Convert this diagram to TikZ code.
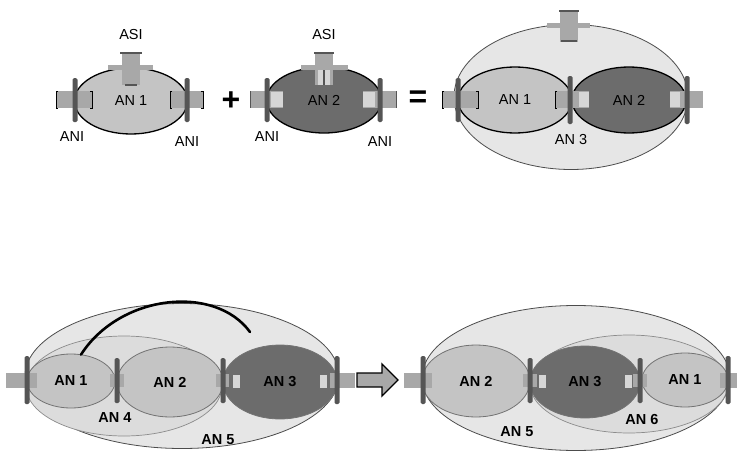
\documentclass[tikz,border=0pt]{standalone}
\usepackage{fontspec}
\setmainfont{Liberation Sans}
\usetikzlibrary{shapes.geometric}
\definecolor{lightfill}{HTML}{C4C4C4}
\definecolor{darkfill}{HTML}{6C6C6C}
\definecolor{outerfill}{HTML}{E6E6E6}
\definecolor{midfill}{HTML}{DCDCDC}
\definecolor{bardark}{HTML}{555555}
\definecolor{stubgray}{HTML}{A8A8A8}
\definecolor{stublight}{HTML}{D6D6D6}
\tikzset{
  an/.style={ellipse, inner sep=0pt, font=\fontsize{14.5}{14.5}\selectfont},
  topan/.style={an, draw=black, line width=1.3pt},
  botan/.style={an, draw=black!55, line width=0.8pt},
  outerell/.style={an, draw=black!70, line width=0.8pt, fill=outerfill},
  midell/.style={an, draw=black!45, line width=0.7pt, fill=midfill},
  lbl/.style={font=\fontsize{14.5}{14.5}\selectfont, inner sep=0pt},
  blbl/.style={font=\fontsize{14.5}{14.5}\bfseries\selectfont, inner sep=0pt},
  vbar/.style={fill=bardark, rounded corners=1.5pt},
  stub/.style={fill=stubgray},
  brk/.style={draw=black, line width=0.7pt},
  op/.style={font=\fontsize{32}{32}\bfseries\selectfont, inner sep=0pt},
}
\begin{document}
\begin{tikzpicture}[x=1pt,y=-1pt]
\useasboundingbox (0,0) rectangle (737,455);

% ================= TOP LEFT: AN 1 =================
\node[topan, fill=lightfill, minimum width=113pt, minimum height=66pt] (t1) at (131,101) {AN 1};
\fill[stub] (108,65) rectangle (153,70);
\fill[stub] (122,52) rectangle (140,85);
\draw[bardark, line width=2pt] (120,53) -- (142,53);
\draw[bardark, line width=1.5pt] (125,85) -- (137,85);
\node[lbl] (t1asi) at (131,35) {ASI};
% left ANI
\fill[stub] (56,91) rectangle (92,108);
\fill[vbar] (72.5,78) rectangle (77.5,122);
\draw[brk] (58,91) -- (56,91) -- (56,108) -- (58,108);
\draw[brk] (90,91) -- (92,91) -- (92,108) -- (90,108);
\node[lbl] (t1anil) at (72,137) {ANI};
% right ANI
\fill[stub] (170,91) rectangle (203,108);
\fill[vbar] (184.5,78) rectangle (189.5,122);
\draw[brk] (172,91) -- (170,91) -- (170,108) -- (172,108);
\draw[brk] (201,91) -- (203,91) -- (203,108) -- (201,108);
\node[lbl] (t1anir) at (187,142) {ANI};

\node[op] (plus) at (231,101) {+};

% ================= TOP MIDDLE: AN 2 =================
\node[topan, fill=darkfill, minimum width=115pt, minimum height=66pt] (t2) at (324,100) {AN 2};
\fill[stub] (301,65) rectangle (348,70);
\fill[stub] (315,52) rectangle (333,85);
\fill[stublight] (318,70) rectangle (330,85);
\draw[bardark, line width=1.2pt] (324,70) -- (324,85);
\draw[bardark, line width=1.5pt] (314,53) -- (334,53);
\node[lbl] (t2asi) at (324,35) {ASI};
% left ANI
\fill[stub] (250,91) rectangle (283,108);
\fill[stublight] (271,92) rectangle (283,107);
\fill[vbar] (264.5,78) rectangle (269.5,122);
\draw[bardark, line width=1pt] (250.5,91) -- (250.5,108);
\node[lbl] (t2anil) at (267,137) {ANI};
% right ANI
\fill[stub] (363,91) rectangle (397,108);
\fill[stublight] (363,92) rectangle (375,107);
\fill[vbar] (377.5,78) rectangle (382.5,122);
\draw[bardark, line width=1pt] (396.5,91) -- (396.5,108);
\node[lbl] (t2anir) at (380,142) {ANI};

\node[op] (eq) at (418,99) {=};

% ================= TOP RIGHT: AN 3 =================
\node[outerell, minimum width=234pt, minimum height=145pt] (t3) at (571,97) {};
\fill[stub] (547,23) rectangle (590,28);
\fill[stub] (560,10) rectangle (578,42);
\draw[bardark, line width=1.5pt] (559,11) -- (579,11);
\draw[bardark, line width=1.5pt] (561,41) -- (577,41);
\node[topan, fill=lightfill, minimum width=114pt, minimum height=66pt] (t3a) at (515,100) {AN 1};
\node[topan, fill=darkfill, minimum width=114pt, minimum height=66pt] (t3b) at (629,100) {AN 2};
\node[lbl] (t3lbl) at (571,140) {AN 3};
% left ANI
\fill[stub] (442,91) rectangle (478,108);
\fill[vbar] (455.5,78) rectangle (460.5,122);
\draw[brk] (444,91) -- (442,91) -- (442,108) -- (444,108);
\draw[brk] (476,91) -- (478,91) -- (478,108) -- (476,108);
% middle
\fill[stub] (555,91) rectangle (589,108);
\fill[stublight] (579,92) rectangle (589,107);
\fill[vbar] (567.5,76) rectangle (572.5,124);
\draw[brk] (557,91) -- (555,91) -- (555,108) -- (557,108);
% right
\fill[stub] (670,91) rectangle (703,108);
\fill[stublight] (670,92) rectangle (680,107);
\fill[vbar] (684.5,76) rectangle (689.5,124);

% ================= BOTTOM LEFT =================
\node[outerell, minimum width=314pt, minimum height=145pt] (b5) at (182,376) {};
\node[midell, minimum width=196pt, minimum height=100pt] (b4) at (124,386) {};
\node[botan, fill=lightfill, minimum width=88pt, minimum height=54pt] (b1) at (71,381) {\bfseries AN 1};
\node[botan, fill=lightfill, minimum width=106pt, minimum height=70pt] (b2) at (170,382) {\bfseries AN 2};
\node[botan, fill=darkfill, minimum width=114pt, minimum height=74pt] (b3) at (280,382) {\bfseries AN 3};
\fill[stublight] (233,375) rectangle (240,388);
\fill[stublight] (320,375) rectangle (327,388);
\node[blbl] (b4lbl) at (115,418) {AN 4};
\node[blbl] (b5lbl) at (218,440) {AN 5};
% bars and stubs
\fill[stub] (6,373) rectangle (37,388);
\fill[vbar] (24.5,356) rectangle (29.5,404);
\fill[stub] (110,374) rectangle (124,387);
\fill[vbar] (114.5,358) rectangle (119.5,403);
\fill[stub] (216,374) rectangle (229,387);
\fill[vbar] (220.5,358) rectangle (225.5,403);
\fill[stub] (330,373) rectangle (355,388);
\fill[vbar] (334.5,356) rectangle (339.5,404);
% move connector
\coordinate (bend) at (250,332);
\draw[line width=2.6pt, line cap=round] (b1.north) ++(10,1) .. controls (120,294) and (215,284) .. (bend);

% hollow arrow
\draw[fill=stubgray, line width=1.3pt, line join=miter]
  (357,373) -- (382,373) -- (382,364) -- (398,380) -- (382,396) -- (382,387) -- (357,387) -- cycle;
\node[inner sep=0pt] (arr) at (377,380) {};

% ================= BOTTOM RIGHT =================
\node[outerell, minimum width=308pt, minimum height=145pt] (c5) at (576,378) {};
\node[midell, minimum width=198pt, minimum height=98pt] (c6) at (629,384) {};
\node[botan, fill=lightfill, minimum width=108pt, minimum height=72pt] (c2) at (476,381) {\bfseries AN 2};
\node[botan, fill=darkfill, minimum width=110pt, minimum height=72pt] (c3) at (585,382) {\bfseries AN 3};
\node[botan, fill=lightfill, minimum width=86pt, minimum height=54pt] (c1) at (685,380) {\bfseries AN 1};
\fill[stublight] (539,375) rectangle (546,388);
\fill[stublight] (625,375) rectangle (632,388);
\node[blbl] (c5lbl) at (517,432) {AN 5};
\node[blbl] (c6lbl) at (642,420) {AN 6};
\fill[stub] (404,373) rectangle (432,388);
\fill[vbar] (420.5,356) rectangle (425.5,404);
\fill[stub] (523,374) rectangle (537,387);
\fill[vbar] (527.5,358) rectangle (532.5,403);
\fill[stub] (633,374) rectangle (647,387);
\fill[vbar] (637.5,358) rectangle (642.5,403);
\fill[stub] (720,373) rectangle (737,388);
\fill[vbar] (725.5,356) rectangle (730.5,404);
\end{tikzpicture}
\end{document}
